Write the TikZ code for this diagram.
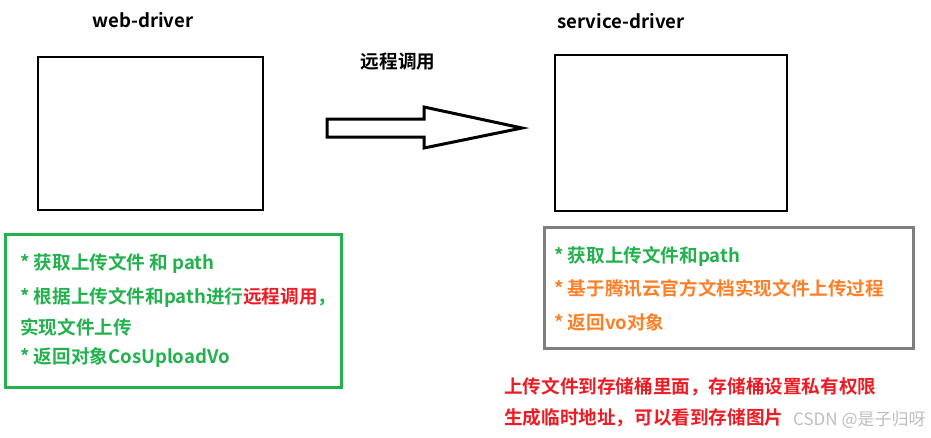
\documentclass[tikz,border=0pt]{standalone}
\usepackage{fontspec}
\setmainfont{Noto Sans CJK SC}[BoldFont={* Bold}]
\newfontfamily\cjkb{Noto Sans CJK SC Bold}
\definecolor{pgreen}{RGB}{34,177,76}
\definecolor{porange}{RGB}{255,127,39}
\definecolor{pred}{RGB}{237,28,36}
\definecolor{pgray}{RGB}{127,127,127}
\definecolor{wm}{RGB}{190,190,190}
\tikzset{
  box/.style={draw=black,line width=2pt},
  lbl/.style={inner sep=0pt,anchor=west,font=\cjkb\fontsize{18.6}{20}\selectfont},
  ttl/.style={inner sep=0pt,font=\cjkb\fontsize{18.6}{20}\selectfont}
}
\begin{document}
\begin{tikzpicture}[x=1pt,y=-1pt]
\useasboundingbox (0,0) rectangle (931,437);
% titles
\node[ttl] (t1) at (143,20) {web-driver};
\node[ttl] (t2) at (621,21) {service-driver};
\node[ttl] (t3) at (398,62) {远程调用};
% boxes
\draw[box] (38,57) rectangle (263,210);
\draw[box] (555,55) rectangle (787,211);
% block arrow
\draw[line width=3pt,line join=miter] (327,119) -- (424,119) -- (424,107) -- (522,128) -- (424,148) -- (424,137) -- (327,137) -- cycle;
% green box
\draw[draw=pgreen,line width=3pt] (5,234) rectangle (341,387);
\node[lbl,text=pgreen] (g1) at (20,263) {* 获取上传文件 和 path};
\node[lbl,text=pgreen] (g2) at (20,297) {* 根据上传文件和path进行\textcolor{pred}{远程调用}，};
\node[lbl,text=pgreen] (g3) at (20,327) {实现文件上传};
\node[lbl,text=pgreen] (g4) at (20,358) {* 返回对象CosUploadVo};
% gray box
\draw[draw=pgray,line width=3pt] (544,227) rectangle (913,348);
\node[lbl,text=pgreen] (s1) at (554,256) {* 获取上传文件和path};
\node[lbl,text=porange] (s2) at (554,288) {* 基于腾讯云官方文档实现文件上传过程};
\node[lbl,text=porange] (s3) at (554,322) {* 返回vo对象};
% red note
\node[lbl,text=pred] (r1) at (504,387) {上传文件到存储桶里面，存储桶设置私有权限};
\node[lbl,text=pred] (r2) at (504,418) {生成临时地址，可以看到存储图片};
\node[inner sep=0pt,anchor=west,text=wm,font=\fontsize{17}{18}\selectfont] (wmk) at (793,420) {CSDN @是子归呀};
\end{tikzpicture}
\end{document}
